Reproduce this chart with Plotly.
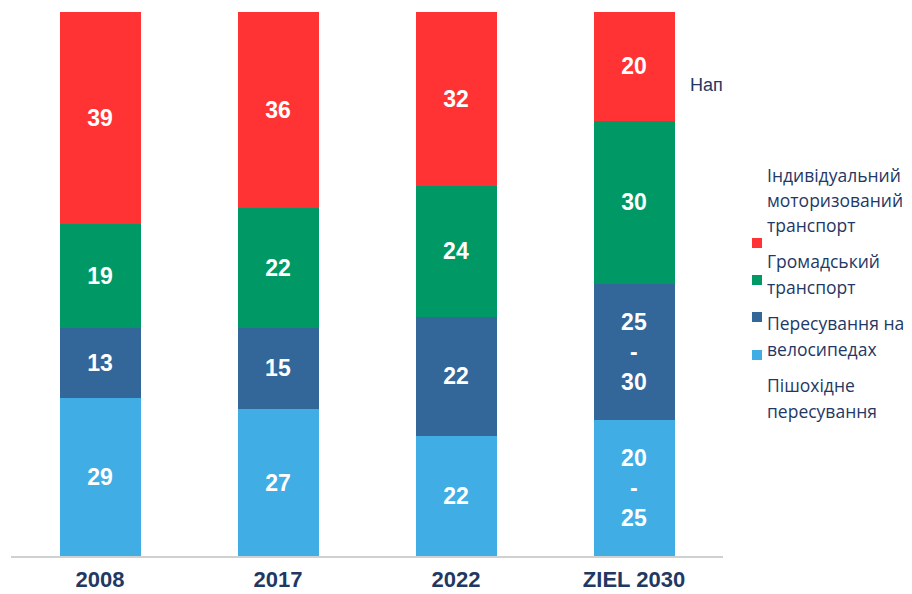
import plotly.graph_objects as go

categories = ["2008", "2017", "2022", "ZIEL 2030"]
series_names = [
    "Пішохідне пересування",
    "Пересування на велосипедах",
    "Громадський транспорт",
    "Індивідуальний моторизований транспорт",
]
walk = [29, 27, 22, 25]
bike = [13, 15, 22, 25]
public = [19, 22, 24, 30]
car = [39, 36, 32, 20]
walk_labels = ["29", "27", "22", "20<br>-<br>25"]
bike_labels = ["13", "15", "22", "25<br>-<br>30"]
public_labels = ["19", "22", "24", "30"]
car_labels = ["39", "36", "32", "20"]

colors = ["#41ADE5", "#336699", "#009966", "#FF3333"]
values = [walk, bike, public, car]
labels = [walk_labels, bike_labels, public_labels, car_labels]

# legend lines (top to bottom), grouped by series
legend_entries = [
    (["Індивідуальний", "моторизований", "транспорт"], "#FF3333"),
    (["Громадський", "транспорт"], "#009966"),
    (["Пересування на", "велосипедах"], "#336699"),
    (["Пішохідне", "пересування"], "#41ADE5"),
]

W, H = 912, 594
L, R, T, B = 11, 189, 12, 38
pw, ph = W - L - R, H - T - B

def px(x):
    return (x - L) / pw

def py(y):
    return (H - B - y) / ph

fig = go.Figure()
for name, vals, labs, c in zip(series_names, values, labels, colors):
    fig.add_trace(go.Bar(
        x=categories, y=vals, name=name, marker=dict(color=c, line=dict(width=0)),
        text=labs, textposition="inside", insidetextanchor="middle",
        textangle=0,
        textfont=dict(family="Liberation Sans, Arial", size=23, color="white", weight="bold"),
        hoverinfo="skip",
    ))

annotations = []
shapes = []
line_ys = [[175, 200, 225], [261, 287], [323, 349], [385, 411]]
marker_ys = [243, 280, 317, 355]
for (lines, c), ys, my in zip(legend_entries, line_ys, marker_ys):
    for t, yy in zip(lines, ys):
        annotations.append(dict(
            x=px(765), y=py(yy), xref="paper", yref="paper", text=t,
            showarrow=False, xanchor="left", yanchor="middle",
            font=dict(family="Open Sans, Noto Sans, sans-serif", size=17.5, color="#1F3864"),
        ))
    shapes.append(dict(
        type="rect", xref="paper", yref="paper",
        x0=px(752), x1=px(762), y0=py(my + 5), y1=py(my - 5),
        fillcolor=c, line=dict(width=0),
    ))

annotations.append(dict(
    x=px(688), y=py(85), xref="paper", yref="paper", text="Нап",
    showarrow=False, xanchor="left", yanchor="middle",
    font=dict(family="Liberation Sans, Arial", size=18, color="#1F3864"),
))

fig.update_layout(
    barmode="stack",
    bargap=0.545,
    width=W, height=H,
    margin=dict(l=L, r=R, t=T, b=B, autoexpand=False),
    paper_bgcolor="white", plot_bgcolor="white",
    showlegend=False,
    annotations=annotations,
    shapes=shapes,
    uniformtext=dict(mode=False),
)
fig.update_xaxes(
    showline=True, linecolor="#D0D0D0", linewidth=2,
    tickfont=dict(family="Liberation Sans, Arial", size=22, color="#1F3864", weight="bold"),
    ticks="", showgrid=False, ticklabelstandoff=3, automargin=False,
)
fig.update_yaxes(range=[0, 100], visible=False, showgrid=False, automargin=False)

fig.write_html("out.html")
